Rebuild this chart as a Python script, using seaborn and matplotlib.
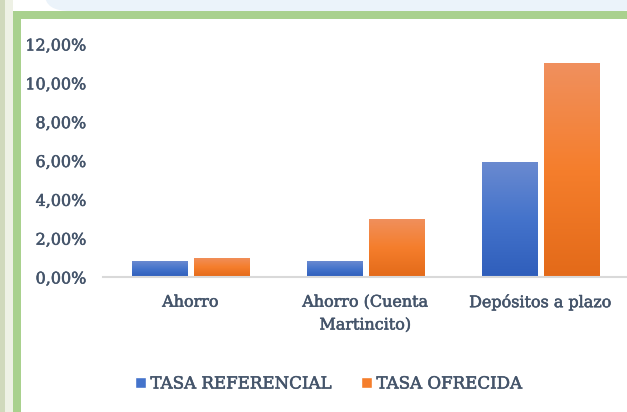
import numpy as np
import pandas as pd
import matplotlib
matplotlib.use("Agg")
import matplotlib.pyplot as plt
import matplotlib.patheffects as pe
import seaborn as sns
from matplotlib.colors import LinearSegmentedColormap
from matplotlib.patches import Rectangle, FancyBboxPatch, Patch
from matplotlib.ticker import FuncFormatter

# data
categories = ["Ahorro", "Ahorro (Cuenta\nMartincito)", "Depósitos a plazo"]
series_names = ["TASA REFERENCIAL", "TASA OFRECIDA"]
tasa_referencial = [0.008, 0.008, 0.059]
tasa_ofrecida = [0.010, 0.030, 0.110]

text_col = "#44546A"
blue_grad = ["#2F5EBB", "#4473CB", "#6A8AD0"]
orange_grad = ["#E36A19", "#F57E2C", "#F0905E"]

df = pd.DataFrame({
    "cat": categories * 2,
    "serie": [series_names[0]] * 3 + [series_names[1]] * 3,
    "valor": tasa_referencial + tasa_ofrecida,
})

sns.set_style("white")
plt.rcParams["font.family"] = ["DejaVu Serif"]

fig = plt.figure(figsize=(6.27, 4.12), dpi=100)
fig.patch.set_facecolor("white")

# background decoration (slide frame)
fig.patches.append(Rectangle((0, 0), 5 / 627, 1, transform=fig.transFigure,
                             facecolor="#D0D9BC", edgecolor="none", zorder=0))
fig.patches.append(Rectangle((5 / 627, 0), 8 / 627, 1, transform=fig.transFigure,
                             facecolor="#EEF1E5", edgecolor="none", zorder=0))
fig.patches.append(FancyBboxPatch((45 / 627, 401 / 412), 600 / 627, 30 / 412,
                                  boxstyle="round,pad=0,rounding_size=0.04",
                                  transform=fig.transFigure, facecolor="#EBF3FA",
                                  edgecolor="none", zorder=0))
fig.patches.append(Rectangle((13 / 627, 393 / 412), 620 / 627, 8 / 412, transform=fig.transFigure,
                             facecolor="#A9D18E", edgecolor="none", zorder=1))
fig.patches.append(Rectangle((13 / 627, 0), 8 / 627, 401 / 412, transform=fig.transFigure,
                             facecolor="#A9D18E", edgecolor="none", zorder=1))

ax = fig.add_axes([103 / 627, 1 - 277 / 412, 525 / 627, 233 / 412])
ax.set_facecolor("none")

sns.barplot(data=df, x="cat", y="valor", hue="serie", ax=ax,
            palette=[blue_grad[1], orange_grad[1]], width=0.7, gap=0.1,
            legend=False, saturation=1)

# gradient fill on each bar
cmaps = [LinearSegmentedColormap.from_list("b", blue_grad),
         LinearSegmentedColormap.from_list("o", orange_grad)]
grad = np.linspace(0, 1, 256).reshape(-1, 1)
for i, bar in enumerate(ax.patches):
    x0 = bar.get_x()
    w = bar.get_width()
    h = bar.get_height()
    im = ax.imshow(grad, extent=[x0, x0 + w, 0, h], origin="lower", aspect="auto",
                   cmap=cmaps[i // 3], zorder=3)
    im.set_clip_path(bar)
ax.set_xlim(-0.5, 2.5)
ax.set_ylim(0, 0.12)
ax.set_aspect("auto")

ax.yaxis.set_major_formatter(FuncFormatter(lambda v, p: f"{v * 100:.2f}%".replace(".", ",")))
ax.set_yticks(np.arange(0, 0.121, 0.02))
ax.tick_params(axis="y", length=0, pad=12, labelsize=11.5, labelcolor=text_col)
ax.tick_params(axis="x", length=0, pad=12, labelsize=11.5, labelcolor=text_col)
ax.set_xlabel("")
ax.set_ylabel("")

# slightly heavier text, like the original
thick = [pe.withStroke(linewidth=0.4, foreground=text_col)]
for lab in ax.get_xticklabels():
    lab.set_linespacing(1.45)
    lab.set_path_effects(thick)
for lab in ax.get_yticklabels():
    lab.set_path_effects(thick)

for s in ["top", "right", "left"]:
    ax.spines[s].set_visible(False)
ax.spines["bottom"].set_color("#D9D9D9")
ax.spines["bottom"].set_linewidth(1.5)
ax.spines["bottom"].set_zorder(4)

handles = [Patch(facecolor=blue_grad[1]), Patch(facecolor=orange_grad[1])]
leg = fig.legend(handles, series_names, loc="center", bbox_to_anchor=(0.524, 1 - 384 / 412),
                 ncol=2, frameon=False, handlelength=0.65, handleheight=0.65,
                 handletextpad=0.25, columnspacing=1.8, fontsize=12)
for t in leg.get_texts():
    t.set_color(text_col)
    t.set_path_effects(thick)

fig.savefig("out.png", dpi=100)
